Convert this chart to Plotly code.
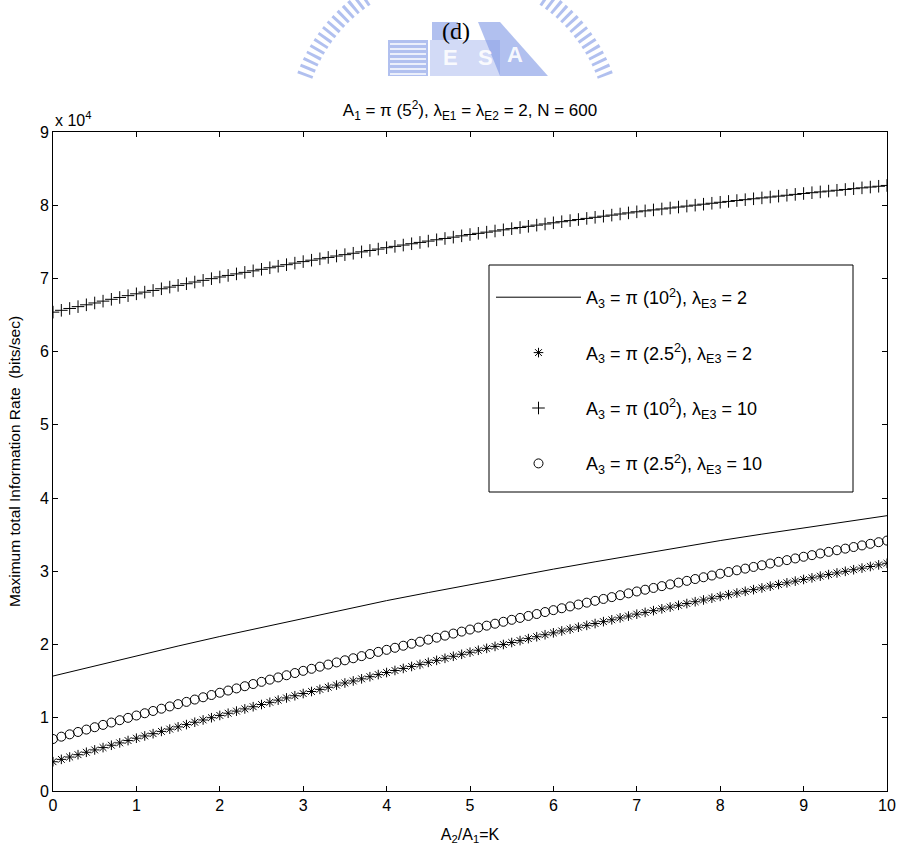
import plotly.graph_objects as go

# ---- data (values in units of 10^4 bits/sec) ----
k_markers = [round(i * 0.1, 1) for i in range(101)]

star_vals = [
    0.400, 0.432, 0.464, 0.496, 0.529, 0.561, 0.593, 0.625, 0.657, 0.689,
    0.721, 0.752, 0.783, 0.814, 0.845, 0.876, 0.907, 0.939, 0.970, 1.001,
    1.032, 1.062, 1.091, 1.121, 1.151, 1.181, 1.211, 1.241, 1.271, 1.301,
    1.331, 1.359, 1.388, 1.417, 1.446, 1.475, 1.503, 1.532, 1.561, 1.590,
    1.618, 1.646, 1.674, 1.701, 1.729, 1.757, 1.784, 1.812, 1.840, 1.867,
    1.895, 1.922, 1.948, 1.975, 2.001, 2.028, 2.054, 2.081, 2.107, 2.134,
    2.160, 2.186, 2.211, 2.237, 2.262, 2.287, 2.313, 2.338, 2.364, 2.389,
    2.415, 2.439, 2.463, 2.488, 2.512, 2.536, 2.560, 2.585, 2.609, 2.633,
    2.658, 2.681, 2.704, 2.727, 2.750, 2.773, 2.797, 2.820, 2.843, 2.866,
    2.889, 2.911, 2.934, 2.956, 2.978, 3.000, 3.022, 3.044, 3.066, 3.088,
    3.110,
]

circle_vals = [
    0.710, 0.742, 0.774, 0.806, 0.839, 0.871, 0.903, 0.935, 0.967, 0.999,
    1.031, 1.062, 1.093, 1.124, 1.155, 1.186, 1.217, 1.249, 1.280, 1.311,
    1.342, 1.372, 1.401, 1.431, 1.461, 1.491, 1.521, 1.551, 1.581, 1.611,
    1.641, 1.669, 1.698, 1.727, 1.756, 1.785, 1.813, 1.842, 1.871, 1.900,
    1.928, 1.956, 1.984, 2.011, 2.039, 2.067, 2.094, 2.122, 2.150, 2.177,
    2.205, 2.232, 2.258, 2.285, 2.311, 2.338, 2.364, 2.391, 2.417, 2.444,
    2.470, 2.496, 2.521, 2.547, 2.572, 2.597, 2.623, 2.648, 2.674, 2.699,
    2.725, 2.749, 2.773, 2.798, 2.822, 2.846, 2.870, 2.895, 2.919, 2.943,
    2.968, 2.991, 3.014, 3.037, 3.060, 3.083, 3.107, 3.130, 3.153, 3.176,
    3.199, 3.221, 3.244, 3.266, 3.288, 3.310, 3.332, 3.354, 3.376, 3.398,
    3.420,
]

plus_vals = [
    6.540, 6.565, 6.590, 6.615, 6.640, 6.665, 6.690, 6.715, 6.740, 6.765,
    6.790, 6.813, 6.836, 6.859, 6.882, 6.905, 6.928, 6.951, 6.974, 6.997,
    7.020, 7.041, 7.062, 7.083, 7.104, 7.125, 7.146, 7.167, 7.188, 7.209,
    7.230, 7.249, 7.268, 7.287, 7.306, 7.325, 7.344, 7.363, 7.382, 7.401,
    7.420, 7.438, 7.456, 7.474, 7.492, 7.510, 7.528, 7.546, 7.564, 7.582,
    7.600, 7.616, 7.632, 7.648, 7.664, 7.680, 7.696, 7.712, 7.728, 7.744,
    7.760, 7.775, 7.790, 7.805, 7.820, 7.835, 7.850, 7.865, 7.880, 7.895,
    7.910, 7.923, 7.936, 7.949, 7.962, 7.975, 7.988, 8.001, 8.014, 8.027,
    8.040, 8.052, 8.064, 8.076, 8.088, 8.100, 8.112, 8.124, 8.136, 8.148,
    8.160, 8.171, 8.182, 8.193, 8.204, 8.215, 8.226, 8.237, 8.248, 8.259,
    8.270,
]

k_line = [0, 0.5, 1, 1.5, 2, 2.5, 3, 3.5, 4, 4.5, 5, 5.5, 6, 6.5, 7, 7.5, 8, 8.5, 9, 9.5, 10]
line_vals = [1.570, 1.710, 1.850, 1.980, 2.110, 2.235, 2.360, 2.480, 2.600, 2.710,
             2.820, 2.925, 3.030, 3.130, 3.230, 3.325, 3.420, 3.508, 3.595, 3.678, 3.760]

y_tick_vals = [0, 1, 2, 3, 4, 5, 6, 7, 8, 9]
x_tick_vals = [0, 1, 2, 3, 4, 5, 6, 7, 8, 9, 10]

SCALE = 1e4
FONT = "Liberation Sans, Arial, sans-serif"

names = [
    "A<sub>3</sub> = π (10<sup>2</sup>), λ<sub>E3</sub> = 2",
    "A<sub>3</sub> = π (2.5<sup>2</sup>), λ<sub>E3</sub> = 2",
    "A<sub>3</sub> = π (10<sup>2</sup>), λ<sub>E3</sub> = 10",
    "A<sub>3</sub> = π (2.5<sup>2</sup>), λ<sub>E3</sub> = 10",
]

# ---- page geometry (pixels) ----
W, H = 900, 847
ML, MR, MT, MB = 53, 13, 132, 56
PW, PH = W - ML - MR, H - MT - MB


def px(xp):
    return (xp - ML) / PW


def py(yp):
    return (H - MB - yp) / PH


fig = go.Figure()
fig.add_trace(go.Scatter(
    x=k_line, y=[v * SCALE for v in line_vals], mode="lines",
    line=dict(color="black", width=1), name=names[0], legendgroup="a"))
fig.add_trace(go.Scatter(
    x=k_markers, y=[v * SCALE for v in star_vals], mode="markers",
    marker=dict(symbol="asterisk-open", size=8, color="black",
                line=dict(color="black", width=1)),
    name=names[1], legendgroup="b"))
fig.add_trace(go.Scatter(
    x=k_markers, y=[v * SCALE for v in plus_vals], mode="markers",
    marker=dict(symbol="cross-thin-open", size=9, color="black",
                line=dict(color="black", width=1)),
    name=names[2], legendgroup="c"))
fig.add_trace(go.Scatter(
    x=k_markers, y=[v * SCALE for v in circle_vals], mode="markers",
    marker=dict(symbol="circle-open", size=9, color="black",
                line=dict(color="black", width=1)),
    name=names[3], legendgroup="d"))

axis_common = dict(
    showline=True, linecolor="black", linewidth=1, mirror="ticks",
    ticks="inside", ticklen=5, tickcolor="black", tickwidth=1,
    showgrid=False, zeroline=False, automargin=False,
    tickfont=dict(family=FONT, size=16, color="black"),
)

# ---- watermark-like logo (light blue) ----
LOGO = "rgba(125,150,228,0.6)"
LOGO_LIGHT = "rgba(125,150,228,0.35)"
shapes = []
cx, cy, r = 455, 131, 160
left_pts, right_pts = [], []
for yy in range(-2, 78, 2):
    dx = (r * r - (yy - cy) ** 2) ** 0.5
    left_pts.append((cx - dx, yy))
    right_pts.append((cx + dx, yy))
for pts in (left_pts, right_pts):
    path = "M " + " L ".join(f"{px(a):.4f},{py(b):.4f}" for a, b in pts)
    shapes.append(dict(type="path", path=path, xref="paper", yref="paper",
                       line=dict(color=LOGO, width=16, dash="3px,4px"), layer="below"))
for (x0, y0, x1, y1, col) in [(388, 40, 428, 76, LOGO), (430, 40, 470, 76, LOGO_LIGHT),
                              (470, 40, 500, 76, LOGO_LIGHT), (432, 22, 458, 40, LOGO)]:
    shapes.append(dict(type="rect", xref="paper", yref="paper",
                       x0=px(x0), x1=px(x1), y0=py(y1), y1=py(y0),
                       fillcolor=col, line=dict(width=0), layer="below"))
for yy in range(44, 76, 5):
    shapes.append(dict(type="line", xref="paper", yref="paper",
                       x0=px(390), x1=px(426), y0=py(yy), y1=py(yy),
                       line=dict(color="white", width=1.5), layer="below"))
tri = (f"M {px(478):.4f},{py(22):.4f} L {px(500):.4f},{py(22):.4f} "
       f"L {px(548):.4f},{py(76):.4f} L {px(500):.4f},{py(76):.4f} Z")
shapes.append(dict(type="path", path=tri, xref="paper", yref="paper",
                   fillcolor=LOGO, line=dict(width=0), layer="below"))

# legend frame
shapes.append(dict(type="rect", xref="paper", yref="paper",
                   x0=px(489), x1=px(853), y0=py(492), y1=py(265),
                   line=dict(color="black", width=1), fillcolor="rgba(0,0,0,0)",
                   layer="above"))

fig.update_layout(
    width=W, height=H,
    margin=dict(l=ML, r=MR, t=MT, b=MB),
    paper_bgcolor="white", plot_bgcolor="white",
    font=dict(family=FONT, size=16, color="black"),
    title=dict(
        text="A<sub>1</sub> = π (5<sup>2</sup>), λ<sub>E1</sub> = λ<sub>E2</sub> = 2, N = 600",
        x=px(470), xref="paper", xanchor="center", y=1 - 116 / H, yanchor="bottom",
        font=dict(family=FONT, size=17, color="black")),
    xaxis=dict(range=[0, 10], tickvals=x_tick_vals,
               title=dict(text="A<sub>2</sub>/A<sub>1</sub>=K",
                          font=dict(family=FONT, size=16)),
               **axis_common),
    yaxis=dict(range=[0, 9 * SCALE], tickvals=[v * SCALE for v in y_tick_vals],
               ticktext=[str(v) for v in y_tick_vals],
               title=dict(text="Maximum total Information Rate  (bits/sec)",
                          font=dict(family=FONT, size=15.5)),
               **axis_common),
    legend=dict(
        x=px(491), y=py(279), xanchor="left", yanchor="top",
        borderwidth=0, bgcolor="rgba(255,255,255,0)",
        itemwidth=85, tracegroupgap=29,
        font=dict(family=FONT, size=18, color="black")),
    showlegend=True,
    shapes=shapes,
)

for txt, xx, yy in [("E", 450, 58), ("S", 485, 58), ("A", 515, 55)]:
    fig.add_annotation(
        text=f"<b>{txt}</b>", xref="paper", yref="paper", x=px(xx), y=py(yy),
        xanchor="center", yanchor="middle",
        showarrow=False, font=dict(family=FONT, size=22, color="rgba(255,255,255,0.9)"))

fig.add_annotation(
    text="x 10<sup>4</sup>", xref="paper", yref="paper", x=0, y=1.0,
    xanchor="left", yanchor="bottom", showarrow=False, yshift=1,
    font=dict(family=FONT, size=16, color="black"))

fig.add_annotation(
    text="(d)", xref="paper", yref="paper", x=px(456), y=1.0, yshift=86,
    xanchor="center", yanchor="bottom", showarrow=False,
    font=dict(family="Liberation Serif, DejaVu Serif, serif", size=24, color="black"))

fig.write_html("out.html")
